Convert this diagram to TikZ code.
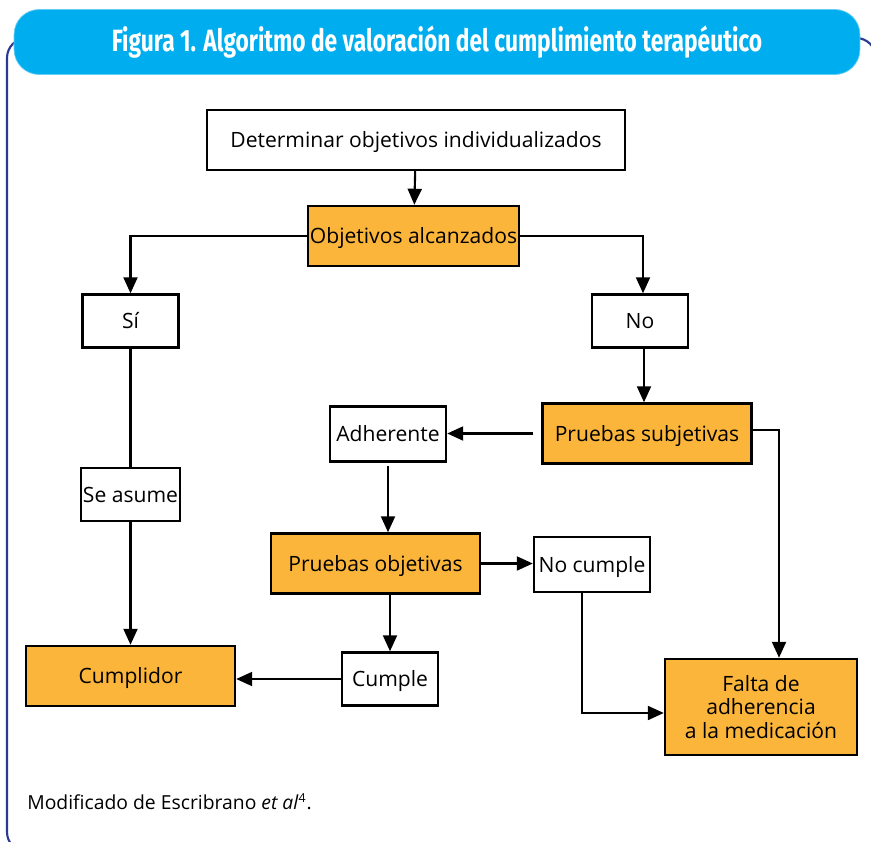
\documentclass[tikz,border=0pt]{standalone}
\usepackage{fontspec}
\setmainfont{Open Sans}
\newfontfamily\titlefont[FakeStretch=0.74]{Fira Sans}
\usetikzlibrary{arrows.meta}
\definecolor{korange}{HTML}{FBB53B}
\definecolor{kcyan}{HTML}{00AEEF}
\definecolor{kframe}{HTML}{2B3990}
\tikzset{
  box/.style={draw, line width=1.4pt, align=center, inner sep=1pt, font=\fontsize{12}{13.6}\selectfont},
  linebox/.style={box, text height=0.88em, text depth=0pt},
  smallbox/.style={linebox, minimum width=1.92cm, minimum height=1.06cm},
  midbox/.style={linebox, minimum width=2.32cm, minimum height=1.1cm},
  bigbox/.style={linebox, minimum width=4.18cm, minimum height=1.2cm},
  kwhite/.style={fill=white}, kgold/.style={fill=korange},
  flow/.style={-{Triangle[length=3.2mm, width=2.8mm]}, line width=1.2pt},
  link/.style={line width=1.2pt},
}

\begin{document}
\begin{tikzpicture}[x=0.02cm, y=-0.02cm]
    \useasboundingbox (0,0) rectangle (871,841);
    % frame and title band
    \draw[kframe, line width=1.2pt, rounded corners=0.4cm] (7,38) rectangle (876,852);
    \node[fill=kcyan, draw=kcyan!60, rounded corners=0.5cm, minimum width=16.92cm, minimum height=1.3cm,
      text=white, font=\titlefont\bfseries\fontsize{17.5}{19}\selectfont] (title) at (437,42)
      {Figura 1. Algoritmo de valoración del cumplimiento terapéutico};
    % boxes
    \node[linebox, kwhite, minimum width=8.36cm, minimum height=1.2cm] (det) at (416,140) {Determinar objetivos individualizados};
    \node[bigbox, kgold] (obj) at (413.5,236) {Objetivos alcanzados};
    \node[smallbox, kwhite] (si) at (130.5,321) {Sí};
    \node[smallbox, kwhite] (no) at (640,321) {No};
    \node[bigbox, kgold] (ps) at (647,433.5) {Pruebas subjetivas};
    \node[midbox, kwhite] (adh) at (388,434) {Adherente};
    \node[smallbox, kwhite] (asume) at (130.5,494.5) {Se asume};
    \node[bigbox, kgold] (po) at (375.5,563.5) {Pruebas objetivas};
    \node[midbox, kwhite] (nocumple) at (592,564.5) {No cumple};
    \node[bigbox, kgold] (cumplidor) at (130.5,676) {Cumplidor};
    \node[smallbox, kwhite] (cumple) at (390,679) {Cumple};
    \node[box, kgold, minimum width=3.84cm, minimum height=1.92cm] (falta) at (761,707)
      {Falta de\\adherencia\\a la medicación};
    \coordinate (psx) at (779,0);
    % connectors
    \draw[flow] (det) -- (obj);
    \draw[flow] (obj.west) -| (si.north);
    \draw[flow] (obj.east) -| ([xshift=0.06cm]no.north);
    \draw[link] (si) -- (asume);
    \draw[flow] (asume) -- (cumplidor);
    \draw[flow] ([xshift=0.08cm]no.south) -- ([xshift=0.08cm]no.south |- ps.north);
    \draw[flow, shorten <=0.16cm] (ps.west) -- (ps.west -| adh.east);
    \draw[flow] ([yshift=0.07cm]ps.east) -| (psx |- falta.north);
    \draw[flow, shorten <=0.06cm] (adh.south) -- (adh.south |- po.north);
    \draw[flow] (po.east) -- (po.east -| nocumple.west);
    \draw[flow] ([xshift=-0.2cm]nocumple.south) |- ([yshift=-0.12cm]falta.west);
    \draw[flow] (cumple.north |- po.south) -- (cumple.north);
    \draw[flow] (cumple.west) -- (cumple.west -| cumplidor.east);
    % source note
    \node[anchor=west, inner sep=0pt, font=\fontsize{11}{12}\selectfont] (nota) at (27,802)
      {Modificado de Escribrano \textit{et al}\textsuperscript{\scriptsize 4}.};
\end{tikzpicture}
\end{document}
